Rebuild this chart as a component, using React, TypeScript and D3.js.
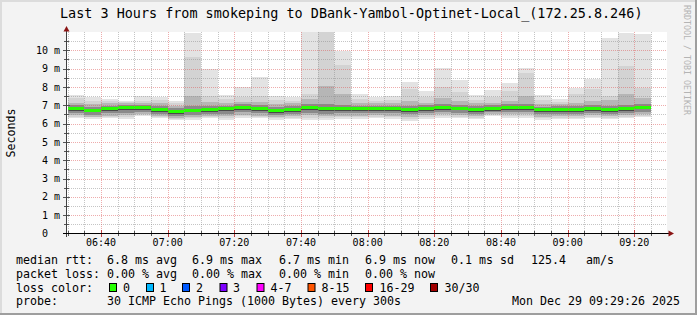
import React from 'react';
import * as d3 from 'd3';

// ---------- data ----------
const barStart = [
  '06:30', '06:35', '06:40', '06:45', '06:50', '06:55',
  '07:00', '07:05', '07:10', '07:15', '07:20', '07:25', '07:30', '07:35', '07:40', '07:45', '07:50', '07:55',
  '08:00', '08:05', '08:10', '08:15', '08:20', '08:25', '08:30', '08:35', '08:40', '08:45', '08:50', '08:55',
  '09:00', '09:05', '09:10', '09:15', '09:20',
];
// median rtt (ms)
const median = [6.85, 6.76, 6.83, 6.89, 6.89, 6.81, 6.69, 6.76, 6.81, 6.83, 6.90, 6.83, 6.73, 6.81, 6.90, 6.83, 6.83, 6.83, 6.83, 6.83, 6.79, 6.85, 6.90, 6.87, 6.79, 6.85, 6.90, 6.90, 6.78, 6.81, 6.81, 6.85, 6.81, 6.85, 6.92];
// smoke levels (sorted ping values, outer -> inner)
const pingMax = [7.58, 7.47, 7.36, 7.23, 7.52, 7.47, 7.23, 10.95, 9.00, 7.58, 8.01, 8.54, 7.52, 7.45, 11.5, 12.0, 9.98, 7.60, 7.43, 7.52, 8.27, 7.78, 9.02, 8.40, 7.56, 7.83, 8.20, 9.03, 7.56, 7.36, 7.94, 8.45, 10.67, 10.96, 10.90];
const pingHi2 = [7.38, 7.25, 7.25, 7.16, 7.25, 7.28, 7.12, 9.62, 7.50, 7.32, 7.45, 7.50, 7.30, 7.25, 7.60, 11.3, 9.20, 7.35, 7.25, 7.30, 7.90, 7.45, 8.00, 7.70, 7.30, 7.45, 7.80, 8.75, 7.30, 7.20, 7.60, 7.90, 7.50, 9.16, 7.95];
const pingHi3 = [7.15, 7.05, 7.10, 7.10, 7.12, 7.10, 6.98, 7.50, 7.20, 7.12, 7.20, 7.20, 7.05, 7.10, 7.35, 8.05, 7.60, 7.12, 7.10, 7.12, 7.25, 7.15, 7.40, 7.25, 7.10, 7.15, 7.25, 7.50, 7.08, 7.08, 7.15, 7.25, 7.30, 7.60, 7.40];
const pingHi4 = [7.00, 6.92, 6.98, 7.02, 7.03, 6.96, 6.84, 6.95, 6.97, 6.98, 7.05, 6.99, 6.88, 6.96, 7.08, 7.05, 7.02, 6.98, 6.97, 6.98, 6.96, 7.00, 7.07, 7.03, 6.94, 7.00, 7.06, 7.08, 6.93, 6.95, 6.97, 7.02, 6.98, 7.03, 7.08];
const pingHi5 = [6.90, 6.81, 6.88, 6.94, 6.94, 6.86, 6.74, 6.82, 6.86, 6.88, 6.95, 6.88, 6.78, 6.86, 6.96, 6.89, 6.89, 6.88, 6.88, 6.88, 6.84, 6.90, 6.95, 6.92, 6.84, 6.90, 6.95, 6.96, 6.83, 6.86, 6.86, 6.90, 6.86, 6.90, 6.97];
const pingLo5 = [6.70, 6.61, 6.68, 6.74, 6.74, 6.66, 6.54, 6.61, 6.66, 6.68, 6.75, 6.68, 6.58, 6.66, 6.74, 6.68, 6.68, 6.68, 6.68, 6.68, 6.64, 6.70, 6.75, 6.72, 6.64, 6.70, 6.75, 6.75, 6.63, 6.66, 6.66, 6.70, 6.66, 6.70, 6.77];
const pingLo4 = [6.58, 6.49, 6.56, 6.60, 6.64, 6.54, 6.42, 6.48, 6.54, 6.55, 6.62, 6.56, 6.45, 6.54, 6.60, 6.55, 6.56, 6.56, 6.57, 6.56, 6.50, 6.58, 6.63, 6.60, 6.52, 6.62, 6.62, 6.63, 6.50, 6.54, 6.54, 6.58, 6.54, 6.58, 6.66];
const pingLo3 = [6.45, 6.38, 6.44, 6.46, 6.54, 6.42, 6.32, 6.36, 6.43, 6.40, 6.48, 6.44, 6.34, 6.42, 6.45, 6.42, 6.43, 6.43, 6.46, 6.43, 6.36, 6.45, 6.50, 6.47, 6.40, 6.52, 6.50, 6.50, 6.38, 6.42, 6.42, 6.46, 6.42, 6.46, 6.52];
const pingLo2 = [6.38, 6.34, 6.38, 6.34, 6.46, 6.37, 6.27, 6.29, 6.37, 6.30, 6.39, 6.37, 6.28, 6.33, 6.32, 6.30, 6.34, 6.34, 6.38, 6.34, 6.26, 6.34, 6.40, 6.38, 6.32, 6.46, 6.40, 6.40, 6.29, 6.33, 6.33, 6.38, 6.33, 6.38, 6.43];
const pingMin = [6.30, 6.27, 6.30, 6.25, 6.40, 6.30, 6.21, 6.21, 6.30, 6.21, 6.30, 6.30, 6.21, 6.25, 6.21, 6.21, 6.25, 6.25, 6.30, 6.25, 6.16, 6.25, 6.30, 6.30, 6.25, 6.40, 6.30, 6.30, 6.21, 6.25, 6.25, 6.30, 6.25, 6.30, 6.35];

const yTickValues = [0, 1, 2, 3, 4, 5, 6, 7, 8, 9, 10];

const statsRtt = ['6.8 ms avg', '6.9 ms max', '6.7 ms min', '6.9 ms now', '0.1 ms sd', '125.4', 'am/s'];
const statsLoss = ['0.00 % avg', '0.00 % max', '0.00 % min', '0.00 % now'];
const lossLabels = ['0', '1', '2', '3', '4-7', '8-15', '16-29', '30/30'];
const lossColors = ['#26ff00', '#00b8ff', '#0059ff', '#7e00ff', '#ff00ff', '#ff5500', '#ff0000', '#a10000'];

const title = 'Last 3 Hours from smokeping to DBank-Yambol-Optinet-Local_(172.25.8.246)';
const probeText = '30 ICMP Echo Pings (1000 Bytes) every 300s';
const dateText = 'Mon Dec 29 09:29:26 2025';

// ---------- layout ----------
const W = 697, H = 315;
const PL = 67, PR = 667, PT = 32, PB = 233.5;
const MONO = '"DejaVu Sans Mono", monospace';

const T0 = new Date(2025, 11, 29, 6, 29, 48);
const T1 = new Date(2025, 11, 29, 9, 29, 48);
const parseT = (s: string) => new Date(2025, 11, 29, +s.slice(0, 2), +s.slice(3, 5));

const bandDefs = [
  { lo: pingMin, hi: pingMax, color: '#e3e3e3' },
  { lo: pingLo2, hi: pingHi2, color: '#d3d3d3' },
  { lo: pingLo3, hi: pingHi3, color: '#b6b6b6' },
  { lo: pingLo4, hi: pingHi4, color: '#8a8a8a' },
  { lo: pingLo5, hi: pingHi5, color: '#494949' },
];

const rttX = [107, 192, 279, 365, 451, 531, 586];
const lossX = [107, 192, 279, 365];
const boxX = [109, 146, 182, 219.5, 256.5, 307.5, 365, 430];
const lblX = [123, 159.5, 196, 233, 270.5, 321.5, 379.5, 444.5];

export default function App() {
  const x = d3.scaleTime().domain([T0, T1]).range([PL, PR]);
  const y = d3.scaleLinear().domain([0, 11]).range([PB, PT]);
  const step = d3.timeMinute.every(5)!;
  const minorX = d3.timeMinute.every(5)!.range(T0, T1);
  const majorX = d3.timeMinute.every(20)!.range(T0, T1);
  const fmt = d3.timeFormat('%H:%M');
  const minorY = d3.range(1, 22).map((k) => k * 0.5).filter((v) => v < 11);

  const crisp = (v: number) => Math.round(v) + 0.5;

  return (
    <svg width={W} height={H} style={{ position: 'absolute', left: 0, top: 0, display: 'block' }}
      xmlns="http://www.w3.org/2000/svg">
      <defs>
        <clipPath id="plotclip">
          <rect x={PL} y={PT} width={PR - PL} height={PB - PT} />
        </clipPath>
      </defs>
      {/* background & frame */}
      <rect x={0} y={0} width={W} height={H} fill="#f3f3f3" />
      <rect x={0} y={0} width={W} height={2} fill="#dcdcdc" />
      <rect x={0} y={0} width={2} height={H} fill="#dcdcdc" />
      <rect x={W - 2} y={0} width={2} height={H} fill="#9e9e9e" />
      <rect x={0} y={H - 2} width={W} height={2} fill="#9e9e9e" />

      {/* canvas */}
      <rect x={PL} y={PT} width={PR - PL} height={PB - PT} fill="#ffffff" />

      {/* smoke */}
      <g clipPath="url(#plotclip)" shapeRendering="crispEdges">
        {bandDefs.map((b, bi) => (
          <g key={bi}>
            {barStart.map((s, i) => {
              const t = parseT(s);
              const x0 = Math.round(x(t));
              const x1 = Math.round(x(step.offset(t, 1)));
              const y0 = Math.round(y(b.hi[i]));
              const y1 = Math.round(y(b.lo[i]));
              return <rect key={i} x={x0} y={y0} width={x1 - x0} height={Math.max(1, y1 - y0)} fill={b.color} />;
            })}
          </g>
        ))}
        {/* median, loss colour */}
        {barStart.map((s, i) => {
          const t = parseT(s);
          const x0 = Math.round(x(t));
          const x1 = Math.round(x(step.offset(t, 1)));
          const ym = Math.round(y(median[i]));
          return <rect key={'m' + i} x={x0} y={ym - 1.5} width={x1 - x0} height={3} fill={lossColors[0]} />;
        })}
      </g>

      {/* grid */}
      <g fill="none" strokeWidth={1} strokeDasharray="1,1">
        {minorY.filter((v) => Math.abs(v - Math.round(v)) > 0.01).map((v) => (
          <line key={'hy' + v} x1={PL} x2={PR} y1={crisp(y(v))} y2={crisp(y(v))} stroke="rgba(140,140,140,0.5)" />
        ))}
        {minorX.filter((t) => t.getMinutes() % 20 !== 0).map((t) => (
          <line key={'vx' + t.getTime()} x1={crisp(x(t))} x2={crisp(x(t))} y1={PT} y2={PB} stroke="rgba(140,140,140,0.5)" />
        ))}
        {yTickValues.filter((v) => v > 0).map((v) => (
          <line key={'My' + v} x1={PL} x2={PR} y1={crisp(y(v))} y2={crisp(y(v))} stroke="rgba(222,90,90,0.5)" />
        ))}
        {majorX.map((t) => (
          <line key={'Mx' + t.getTime()} x1={crisp(x(t))} x2={crisp(x(t))} y1={PT} y2={PB} stroke="rgba(222,90,90,0.5)" />
        ))}
      </g>

      {/* axes */}
      <g shapeRendering="crispEdges">
        {minorY.map((v) => (
          <line key={'ty' + v} x1={Math.abs(v - Math.round(v)) < 0.01 ? 63 : 64} x2={Math.abs(v - Math.round(v)) < 0.01 ? 70 : 69}
            y1={crisp(y(v))} y2={crisp(y(v))} stroke="#555" strokeWidth={1} />
        ))}
        {minorX.map((t) => (
          <line key={'tx' + t.getTime()} x1={crisp(x(t))} x2={crisp(x(t))}
            y1={t.getMinutes() % 20 === 0 ? 230 : 231} y2={t.getMinutes() % 20 === 0 ? 237 : 236}
            stroke={t.getMinutes() % 20 === 0 ? '#c04040' : '#555'} strokeWidth={1} />
        ))}
        <line x1={66.5} x2={66.5} y1={PB + 3} y2={29} stroke="#404040" />
        <line x1={63} x2={670} y1={233.5} y2={233.5} stroke="#000" />
      </g>
      <path d="M66.5,26 L63.5,31.5 L69.5,31.5 Z" fill="#8a1414" />
      <path d="M674,233.5 L668.5,230.5 L668.5,236.5 Z" fill="#8a1414" />

      {/* y labels */}
      <g fontFamily={MONO} fontSize={10} fill="#000">
        {yTickValues.map((v) => (
          <g key={'yl' + v}>
            <text x={48} y={y(v) + 3.6} textAnchor="end">{v}</text>
            {v > 0 && <text x={54} y={y(v) + 3.6}>m</text>}
          </g>
        ))}
        {majorX.map((t) => (
          <text key={'xl' + t.getTime()} x={x(t)} y={246} textAnchor="middle">{fmt(t)}</text>
        ))}
      </g>

      {/* title */}
      <text x={60} y={18} fontFamily={MONO} fontSize={13.45} fill="#000">{title}</text>

      {/* y axis title */}
      <text transform="translate(15,133) rotate(-90)" textAnchor="middle" fontFamily={MONO} fontSize={11.6} fill="#000">Seconds</text>

      {/* watermark */}
      <text transform="translate(684,5) rotate(90)" fontFamily={MONO} fontSize={8.3} fill="#b4b4b4">RRDTOOL / TOBI OETIKER</text>

      {/* legend */}
      <g fontFamily={MONO} fontSize={11.63} fill="#000" style={{ whiteSpace: 'pre' }}>
        <text x={16} y={264}>median rtt:</text>
        {statsRtt.map((s, i) => <text key={'r' + i} x={rttX[i]} y={264}>{s}</text>)}
        <text x={16} y={277.5}>packet loss:</text>
        {statsLoss.map((s, i) => <text key={'l' + i} x={lossX[i]} y={277.5}>{s}</text>)}
        <text x={16} y={291.5}>loss color:</text>
        {lossLabels.map((s, i) => (
          <g key={'c' + i}>
            <rect x={boxX[i] + 0.5} y={283.5} width={7} height={8} fill={lossColors[i]} stroke="#000" strokeWidth={1} />
            <text x={lblX[i]} y={291.5}>{s}</text>
          </g>
        ))}
        <text x={16} y={305}>probe:</text>
        <text x={107} y={305}>{probeText}</text>
        <text x={680} y={305} textAnchor="end">{dateText}</text>
      </g>
    </svg>
  );
}
